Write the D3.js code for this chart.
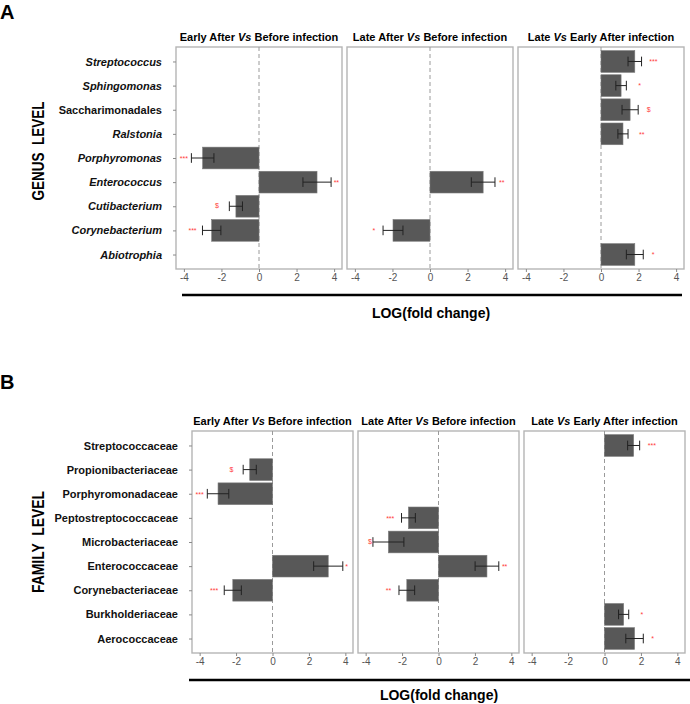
<!DOCTYPE html>
<html>
<head>
<meta charset="utf-8">
<script src="https://cdn.jsdelivr.net/npm/d3@7"></script>
<style>
  html, body { margin: 0; padding: 0; background: #fff; }
  svg { display: block; }
  text { font-family: "Liberation Sans", Arial, sans-serif; }
</style>
</head>
<body>
<svg id="chart" width="690" height="704"></svg>
<script>
// ---------------- DATA ----------------
const panelTitles = [
  ["Early After ", "Vs", " Before infection"],
  ["Late After ", "Vs", " Before infection"],
  ["Late ", "Vs", " Early After infection"]
];
const xTicks = [-4, -2, 0, 2, 4];
const xDomain = [-4.42, 4.42];

// Genus level (top to bottom)
const genusCategories = ["Streptococcus", "Sphingomonas", "Saccharimonadales", "Ralstonia",
  "Porphyromonas", "Enterococcus", "Cutibacterium", "Corynebacterium", "Abiotrophia"];
const genusItalic = [true, true, false, true, true, true, true, true, true];

const genusEarlyVal = [null, null, null, null, -3.0, 3.09, -1.23, -2.52, null];
const genusEarlySE  = [null, null, null, null, 0.60, 0.75, 0.35, 0.49, null];
const genusEarlySig = [null, null, null, null, "***", "**", "$", "***", null];
const genusEarlySigX = [null, null, null, null, -4.0, 4.12, -2.24, -3.54, null];

const genusLateVal = [null, null, null, null, null, 2.83, null, -1.97, null];
const genusLateSE  = [null, null, null, null, null, 0.63, null, 0.53, null];
const genusLateSig = [null, null, null, null, null, "**", null, "*", null];
const genusLateSigX = [null, null, null, null, null, 3.82, null, -2.99, null];

const genusLvEVal = [1.80, 1.07, 1.55, 1.17, null, null, null, null, 1.80];
const genusLvESE  = [0.36, 0.28, 0.43, 0.27, null, null, null, null, 0.45];
const genusLvESig = ["***", "*", "$", "**", null, null, null, null, "*"];
const genusLvESigX = [2.79, 2.06, 2.54, 2.17, null, null, null, null, 2.77];

// Family level (top to bottom)
const familyCategories = ["Streptococcaceae", "Propionibacteriaceae", "Porphyromonadaceae",
  "Peptostreptococcaceae", "Microbacteriaceae", "Enterococcaceae", "Corynebacteriaceae",
  "Burkholderiaceae", "Aerococcaceae"];
const familyItalic = [false, false, false, false, false, false, false, false, false];

const familyEarlyVal = [null, -1.25, -2.99, null, null, 3.06, -2.18, null, null];
const familyEarlySE  = [null, 0.36, 0.59, null, null, 0.80, 0.47, null, null];
const familyEarlySig = [null, "$", "***", null, null, "*", "***", null, null];
const familyEarlySigX = [null, -2.25, -4.0, null, null, 4.07, -3.21, null, null];

const familyLateVal = [null, null, null, -1.65, -2.75, 2.66, -1.74, null, null];
const familyLateSE  = [null, null, null, 0.38, 0.85, 0.65, 0.43, null, null];
const familyLateSig = [null, null, null, "***", "$", "**", "**", null, null];
const familyLateSigX = [null, null, null, -2.65, -3.76, 3.63, -2.75, null, null];

const familyLvEVal = [1.60, null, null, null, null, null, null, 1.05, 1.65];
const familyLvESE  = [0.33, null, null, null, null, null, null, 0.28, 0.48];
const familyLvESig = ["***", null, null, null, null, null, null, "*", "*"];
const familyLvESigX = [2.60, null, null, null, null, null, null, 2.05, 2.64];

// ---------------- DRAWING ----------------
const svg = d3.select("#chart");

function drawBlock(cfg) {
  const g = svg.append("g");
  // block letter
  g.append("text").attr("x", 0).attr("y", cfg.letterY)
    .attr("font-size", 20).attr("font-weight", "bold").text(cfg.letter);

  const y = d3.scalePoint().domain(cfg.categories)
    .range([cfg.top, cfg.bottom]).padding(0.6);
  const step = y.step();
  const barH = step * 0.9;
  const capH = step * 0.4;

  cfg.series.forEach((s, pi) => {
    const [x0, x1] = cfg.panelX[pi];
    const x = d3.scaleLinear().domain(xDomain).range([x0, x1]);
    const pg = g.append("g");

    // title
    const t = pg.append("text").attr("x", (x0 + x1) / 2).attr("y", cfg.top - 6)
      .attr("text-anchor", "middle").attr("font-size", 11).attr("font-weight", "bold");
    panelTitles[pi].forEach((part, k) => {
      t.append("tspan").attr("font-style", k === 1 ? "italic" : "normal").text(part);
    });

    // panel background / border
    pg.append("rect").attr("x", x0).attr("y", cfg.top)
      .attr("width", x1 - x0).attr("height", cfg.bottom - cfg.top)
      .attr("fill", "#fff").attr("stroke", "#b5b5b5").attr("stroke-width", 1.4);

    // zero dashed line
    pg.append("line").attr("x1", x(0)).attr("x2", x(0))
      .attr("y1", cfg.top).attr("y2", cfg.bottom)
      .attr("stroke", "#9a9a9a").attr("stroke-width", 1).attr("stroke-dasharray", "4,3");

    const rows = cfg.categories.map((c, i) => ({
      cat: c, v: s.val[i], se: s.se[i], sig: s.sig[i], sx: s.sigX[i]
    })).filter(d => d.v !== null);

    // bars
    pg.selectAll("rect.bar").data(rows).enter().append("rect").attr("class", "bar")
      .attr("x", d => Math.min(x(0), x(d.v)))
      .attr("width", d => Math.abs(x(d.v) - x(0)))
      .attr("y", d => y(d.cat) - barH / 2)
      .attr("height", barH)
      .attr("fill", "#585858")
      .attr("stroke", "#7a7a7a").attr("stroke-width", 0.6);

    // error bars
    const eb = pg.selectAll("g.eb").data(rows).enter().append("g").attr("class", "eb")
      .attr("stroke", "#222").attr("stroke-width", 1);
    eb.append("line")
      .attr("x1", d => x(d.v - d.se)).attr("x2", d => x(d.v + d.se))
      .attr("y1", d => y(d.cat)).attr("y2", d => y(d.cat));
    eb.append("line")
      .attr("x1", d => x(d.v - d.se)).attr("x2", d => x(d.v - d.se))
      .attr("y1", d => y(d.cat) - capH / 2).attr("y2", d => y(d.cat) + capH / 2);
    eb.append("line")
      .attr("x1", d => x(d.v + d.se)).attr("x2", d => x(d.v + d.se))
      .attr("y1", d => y(d.cat) - capH / 2).attr("y2", d => y(d.cat) + capH / 2);

    // significance labels
    pg.selectAll("text.sig").data(rows.filter(d => d.sig)).enter().append("text")
      .attr("class", "sig")
      .attr("x", d => x(d.sx)).attr("y", d => y(d.cat) + (d.sig === "$" ? 2.2 : 2.8))
      .attr("text-anchor", "middle").attr("font-size", 7)
      .attr("fill", "#ff3b3b").text(d => d.sig);

    // x axis
    const ax = pg.append("g").attr("transform", `translate(0,${cfg.bottom})`)
      .call(d3.axisBottom(x).tickValues(xTicks).tickSize(3).tickPadding(2)
        .tickFormat(d => String(d)));
    ax.select(".domain").remove();
    ax.selectAll(".tick line").attr("stroke", "#8a8a8a");
    ax.selectAll(".tick text").attr("fill", "#555").attr("font-size", 10)
      .attr("font-family", "'Liberation Sans', Arial, sans-serif");

    // y axis on first panel
    if (pi === 0) {
      const ay = pg.append("g").attr("transform", `translate(${x0},0)`)
        .call(d3.axisLeft(y).tickSize(3).tickPadding(11));
      ay.select(".domain").remove();
      ay.selectAll(".tick line").attr("stroke", "#8a8a8a");
      ay.selectAll(".tick text").attr("fill", "#111").attr("font-size", 11)
        .attr("font-weight", "bold")
        .attr("font-family", "'Liberation Sans', Arial, sans-serif")
        .attr("font-style", (d, i) => cfg.italic[i] ? "italic" : "normal");
    }
  });

  // level label
  const midY = (cfg.top + cfg.bottom) / 2 - cfg.levelShift;
  g.append("text").attr("transform", `translate(44,${midY}) rotate(-90)`)
    .attr("text-anchor", "middle").attr("font-size", 16).attr("font-weight", "bold")
    .attr("textLength", cfg.levelLen).attr("lengthAdjust", "spacingAndGlyphs")
    .attr("xml:space", "preserve")
    .text(cfg.level);

  // black line and x title
  g.append("line").attr("x1", cfg.lineX[0]).attr("x2", cfg.lineX[1])
    .attr("y1", cfg.lineY).attr("y2", cfg.lineY)
    .attr("stroke", "#000").attr("stroke-width", 2.5);
  g.append("text").attr("x", cfg.xTitleX).attr("y", cfg.lineY + cfg.xTitleDy)
    .attr("text-anchor", "middle").attr("font-size", 14).attr("font-weight", "bold")
    .text("LOG(fold change)");
}

drawBlock({
  letter: "A", letterY: 19,
  categories: genusCategories, italic: genusItalic,
  top: 47, bottom: 269,
  panelX: [[176, 342], [347, 513], [518, 684]],
  series: [
    { val: genusEarlyVal, se: genusEarlySE, sig: genusEarlySig, sigX: genusEarlySigX },
    { val: genusLateVal, se: genusLateSE, sig: genusLateSig, sigX: genusLateSigX },
    { val: genusLvEVal, se: genusLvESE, sig: genusLvESig, sigX: genusLvESigX }
  ],
  level: "GENUS  LEVEL", levelLen: 99, levelShift: 7,
  lineX: [182, 682], lineY: 295, xTitleX: 431, xTitleDy: 23
});

drawBlock({
  letter: "B", letterY: 389,
  categories: familyCategories, italic: familyItalic,
  top: 431, bottom: 653,
  panelX: [[192, 353], [358, 519], [524, 685]],
  series: [
    { val: familyEarlyVal, se: familyEarlySE, sig: familyEarlySig, sigX: familyEarlySigX },
    { val: familyLateVal, se: familyLateSE, sig: familyLateSig, sigX: familyLateSigX },
    { val: familyLvEVal, se: familyLvESE, sig: familyLvESig, sigX: familyLvESigX }
  ],
  level: "FAMILY  LEVEL", levelLen: 102, levelShift: 0,
  lineX: [189, 690], lineY: 680, xTitleX: 439, xTitleDy: 20
});
</script>
</body>
</html>
